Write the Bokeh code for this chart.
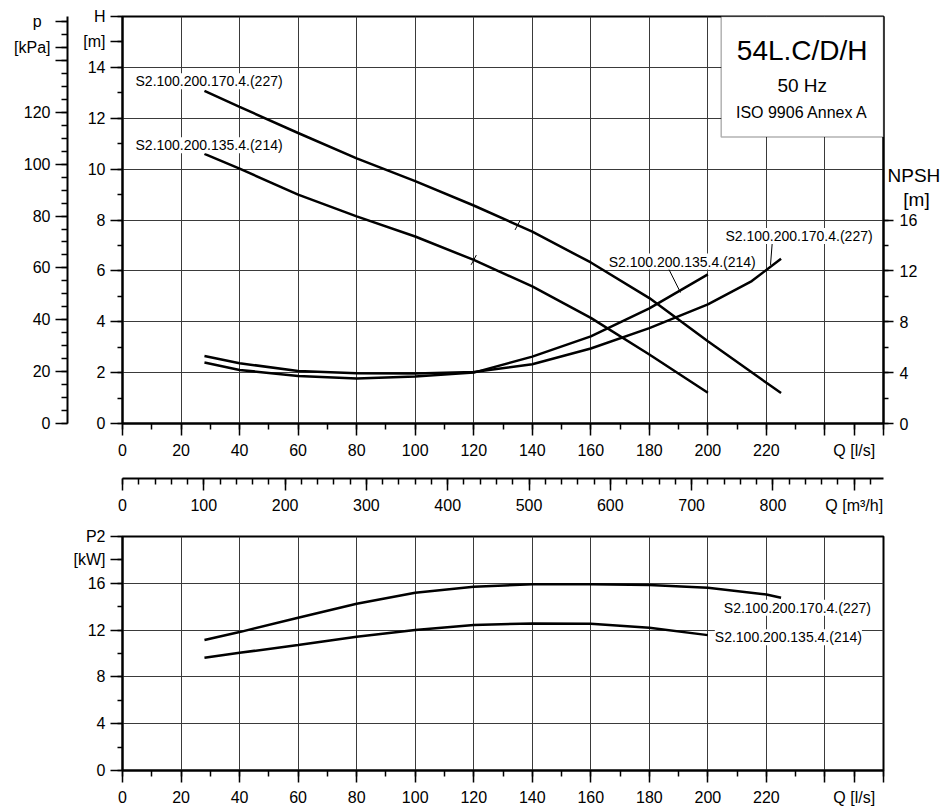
from bokeh.plotting import figure
from bokeh.models import Range1d, LinearAxis, FixedTicker, Grid, Label, BoxAnnotation
from bokeh.layouts import column
from bokeh.embed import file_html
from bokeh.resources import INLINE

FONT = "Liberation Sans"
NB = "\u00a0"

# ---------------- data ----------------
names = ["S2.100.200.170.4.(227)", "S2.100.200.135.4.(214)"]

q_h170 = [28, 40, 60, 80, 100, 120, 135, 140, 160, 180, 200, 220, 225]
h_170 = [13.08, 12.45, 11.42, 10.42, 9.53, 8.57, 7.80, 7.54, 6.33, 4.93, 3.23, 1.60, 1.20]
q_h135 = [28, 40, 60, 80, 100, 120, 140, 160, 180, 200]
h_135 = [10.60, 10.02, 9.00, 8.14, 7.35, 6.43, 5.39, 4.15, 2.71, 1.21]

q_n170 = [28, 40, 60, 80, 100, 120, 140, 160, 180, 200, 215, 225]
npsh_170 = [5.31, 4.74, 4.13, 3.95, 3.93, 4.05, 4.66, 5.90, 7.50, 9.37, 11.20, 12.96]
q_n135 = [28, 40, 60, 80, 100, 120, 140, 160, 180, 200]
npsh_135 = [4.79, 4.21, 3.74, 3.53, 3.69, 4.00, 5.26, 6.85, 9.05, 11.73]

q_p170 = [28, 40, 60, 80, 100, 120, 140, 160, 180, 200, 220, 225]
p2_170 = [11.15, 11.83, 13.06, 14.25, 15.19, 15.71, 15.91, 15.92, 15.85, 15.62, 15.05, 14.77]
q_p135 = [28, 40, 60, 80, 100, 120, 140, 160, 180, 200]
p2_135 = [9.63, 10.06, 10.72, 11.43, 12.00, 12.43, 12.57, 12.54, 12.20, 11.57]

mark_q = [135, 120]
mark_h = [7.80, 6.43]

q_ticks = list(range(0, 261, 20))
q_minor = list(range(0, 261, 10))
h_ticks = list(range(0, 17, 2))
h_minor = list(range(0, 17, 1))
p_ticks = list(range(0, 141, 20))
p_minor = list(range(0, 156, 5))
npsh_ticks = [0, 4, 8, 12, 16]
npsh_minor = [0, 2, 4, 6, 8, 10, 12, 14, 16]
m3h_ticks = list(range(0, 901, 100))
m3h_minor = list(range(0, 921, 20))
p2_ticks = list(range(0, 21, 4))
p2_minor = list(range(0, 21, 2))

# unit titles, attached to the axes at these axis values
q_title, q_title_at = "Q [l/s]", 250
m3h_title, m3h_title_at = "Q [m³/h]", 900
h_title, h_unit, h_title_at, h_unit_at = "H", "[m]", 16, 15
p_title, p_unit, p_title_at, p_unit_at = "p", "[kPa]", 155, 145
npsh_title, npsh_unit, npsh_title_at, npsh_unit_at = "NPSH", "[m]", 19.5, 17.6
p2_title, p2_unit, p2_title_at, p2_unit_at = "P2", "[kW]", 20, 18

Q_MAX, H_MAX, NPSH_MAX, P2_MAX = 260, 16, 32, 20
KPA_PER_M = 9.81
M3H_PER_LS = 3.6

title_lines = ["54L.C/D/H", "50 Hz", "ISO 9906 Annex A"]

# ---------------- geometry helpers (reference pixel -> data) ----------------
FL, FR = 122.0, 883.0
FT_T, FT_B = 16.0, 424.0
FB_T, FB_B = 536.0, 770.0


def qx(px):
    return round((px - FL) / (FR - FL) * Q_MAX, 3)


def hy(py):
    return round((FT_B - py) / (FT_B - FT_T) * H_MAX, 3)


def py2(py):
    return round((FB_B - py) / (FB_B - FB_T) * P2_MAX, 3)


GRID = "#3a3a3a"
TICK_FS = "16px"


def style_axis(ax, tick_out=12, minor_out=6, standoff=6):
    ax.axis_line_color = "black"
    ax.axis_line_width = 2
    ax.major_tick_line_color = "black"
    ax.major_tick_line_width = 1.5
    ax.minor_tick_line_color = "black"
    ax.minor_tick_line_width = 1.5
    ax.major_tick_in = 0
    ax.major_tick_out = tick_out
    ax.minor_tick_in = 0
    ax.minor_tick_out = minor_out
    ax.major_label_text_font = FONT
    ax.major_label_text_font_size = TICK_FS
    ax.major_label_text_color = "black"
    ax.major_label_standoff = standoff


def lab(fig, x, y, text, size="14px", align="center", baseline="middle", bg=None):
    kw = {}
    if bg:
        kw = dict(background_fill_color=bg, background_fill_alpha=1.0)
    fig.add_layout(Label(x=x, y=y, text=text, text_font=FONT, text_font_size=size,
                         text_color="black", text_align=align, text_baseline=baseline, **kw))


def frame_style(fig):
    fig.outline_line_color = "black"
    fig.outline_line_width = 2
    fig.background_fill_color = "white"
    fig.border_fill_color = "white"


# ---------------- top panel: H / p / NPSH ----------------
top = figure(width=945, height=516, x_range=Range1d(0, Q_MAX), y_range=Range1d(0, H_MAX),
             x_axis_type=None, y_axis_type=None, output_backend="svg", toolbar_location=None,
             min_border_left=122, min_border_right=62, min_border_top=16, min_border_bottom=92)
top.extra_y_ranges = {"p": Range1d(0, H_MAX * KPA_PER_M), "npsh": Range1d(0, NPSH_MAX)}
top.extra_x_ranges = {"m3h": Range1d(0, Q_MAX * M3H_PER_LS)}
frame_style(top)

top.add_layout(Grid(dimension=0, ticker=FixedTicker(ticks=q_ticks), grid_line_color=GRID, grid_line_width=1))
top.add_layout(Grid(dimension=1, ticker=FixedTicker(ticks=h_ticks), grid_line_color=GRID, grid_line_width=1))

ax_h = LinearAxis(ticker=FixedTicker(ticks=h_ticks + [h_unit_at], minor_ticks=h_minor),
                  major_label_overrides={h_title_at: h_title, h_unit_at: h_unit},
                  axis_label=" ", axis_label_text_font_size="9px", axis_label_standoff=0)
style_axis(ax_h, tick_out=12, minor_out=5, standoff=5)
top.add_layout(ax_h, "left")

ax_p = LinearAxis(y_range_name="p",
                  ticker=FixedTicker(ticks=p_ticks + [p_unit_at, p_title_at], minor_ticks=p_minor),
                  major_label_overrides={140: "", p_unit_at: p_unit, p_title_at: p_title + NB + NB})
style_axis(ax_p, tick_out=12, minor_out=6, standoff=5)
top.add_layout(ax_p, "left")

ax_n = LinearAxis(y_range_name="npsh", ticker=FixedTicker(ticks=npsh_ticks, minor_ticks=npsh_minor))
style_axis(ax_n, tick_out=10, minor_out=5, standoff=6)
top.add_layout(ax_n, "right")

# NPSH unit title: tick-less axis stacked to the right of the NPSH axis, pulled back by a negative standoff
ax_nt = LinearAxis(y_range_name="npsh",
                   ticker=FixedTicker(ticks=[npsh_unit_at, npsh_title_at], minor_ticks=[]),
                   major_label_overrides={npsh_title_at: npsh_title, npsh_unit_at: NB + NB + NB + npsh_unit},
                   axis_line_color=None, major_tick_line_color=None, minor_tick_line_color=None,
                   major_tick_in=0, major_tick_out=0, minor_tick_in=0, minor_tick_out=0,
                   major_label_standoff=-33, major_label_text_font=FONT,
                   major_label_text_font_size="19px", major_label_text_color="black")
top.add_layout(ax_nt, "right")

ax_q = LinearAxis(ticker=FixedTicker(ticks=q_ticks + [q_title_at], minor_ticks=q_minor),
                  major_label_overrides={240: "", 260: "", q_title_at: q_title}, axis_label=" ",
                  axis_label_text_font_size="11px", axis_label_standoff=2)
style_axis(ax_q)
top.add_layout(ax_q, "below")

ax_m = LinearAxis(x_range_name="m3h", ticker=FixedTicker(ticks=m3h_ticks, minor_ticks=m3h_minor),
                  major_label_overrides={m3h_title_at: m3h_title})
style_axis(ax_m)
top.add_layout(ax_m, "below")

# curves
top.line(q_h170, h_170, line_color="black", line_width=2.5)
top.line(q_h135, h_135, line_color="black", line_width=2.5)
top.line(q_n170, npsh_170, line_color="black", line_width=2.5, y_range_name="npsh")
top.line(q_n135, npsh_135, line_color="black", line_width=2.5, y_range_name="npsh")
top.scatter(mark_q, mark_h, marker="dash", angle=1.08, size=11, line_color="black", line_width=1)

# leader lines for NPSH labels
top.segment(x0=[qx(668.3), qx(771.7)], y0=[hy(269.3), hy(243.3)],
            x1=[qx(680.0), qx(770.0)], y1=[hy(292.7), hy(265.0)],
            line_color="black", line_width=1)

# title box
top.add_layout(BoxAnnotation(left=qx(720.7), right=Q_MAX, bottom=hy(136.7), top=H_MAX,
                             fill_color="white", fill_alpha=1.0, line_color="black", line_width=1.5))
lab(top, qx(801.7), hy(50), title_lines[0], size="28px")
lab(top, qx(801.7), hy(85), title_lines[1], size="19px")
lab(top, qx(801.7), hy(112.5), title_lines[2], size="16px")

# curve names
lab(top, qx(135), hy(81), names[0], align="left", bg="white")
lab(top, qx(135), hy(145), names[1], align="left", bg="white")
lab(top, qx(681.7), hy(261.7), names[1], align="center", bg="white")
lab(top, qx(725), hy(236), names[0], align="left", bg="white")

# ---------------- bottom panel: P2 ----------------
bot = figure(width=945, height=293, x_range=Range1d(0, Q_MAX), y_range=Range1d(0, P2_MAX),
             x_axis_type=None, y_axis_type=None, output_backend="svg", toolbar_location=None,
             min_border_left=122, min_border_right=62, min_border_top=20, min_border_bottom=39)
frame_style(bot)
bot.add_layout(Grid(dimension=0, ticker=FixedTicker(ticks=q_ticks), grid_line_color=GRID, grid_line_width=1))
bot.add_layout(Grid(dimension=1, ticker=FixedTicker(ticks=p2_ticks), grid_line_color=GRID, grid_line_width=1))

ax_p2 = LinearAxis(ticker=FixedTicker(ticks=p2_ticks + [p2_unit_at], minor_ticks=p2_minor),
                   major_label_overrides={p2_title_at: p2_title, p2_unit_at: p2_unit})
style_axis(ax_p2, tick_out=12, minor_out=5, standoff=5)
bot.add_layout(ax_p2, "left")

ax_q2 = LinearAxis(ticker=FixedTicker(ticks=q_ticks + [q_title_at], minor_ticks=q_minor),
                   major_label_overrides={240: "", 260: "", q_title_at: q_title})
style_axis(ax_q2)
bot.add_layout(ax_q2, "below")

bot.line(q_p170, p2_170, line_color="black", line_width=2.5)
bot.line(q_p135, p2_135, line_color="black", line_width=2.5)

lab(bot, qx(723.3), py2(607.3), names[0], align="left", bg="white")
lab(bot, qx(714.3), py2(636.7), names[1], align="left", bg="white")

layout = column(top, bot, spacing=0)
open("out.html", "w").write(file_html(layout, INLINE))
